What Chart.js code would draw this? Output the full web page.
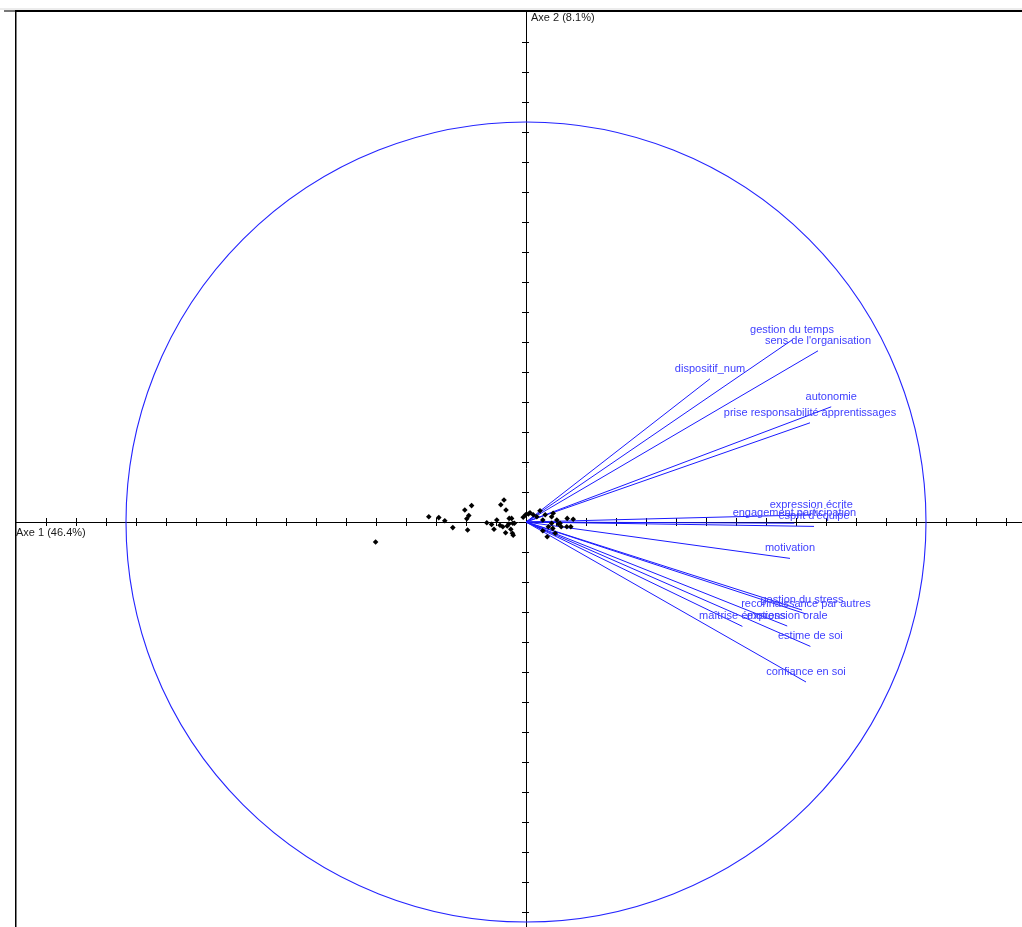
<!DOCTYPE html>
<html>
<head>
<meta charset="utf-8">
<script src="https://cdn.jsdelivr.net/npm/chart.js@4/dist/chart.umd.min.js"></script>
<style>
html,body{margin:0;padding:0;background:#fff;overflow:hidden;}
canvas{display:block;}
</style>
</head>
<body>
<canvas id="c" width="1022" height="927"></canvas>
<script>
// Axis titles
const axisXTitle = "Axe 1 (46.4%)";
const axisYTitle = "Axe 2 (8.1%)";

// Variables (correlation circle)
const varNames = [
  "dispositif_num", "gestion du temps", "sens de l'organisation", "autonomie",
  "prise responsabilité apprentissages", "expression écrite", "engagement participation",
  "esprit d'équipe", "motivation", "gestion du stress", "reconnaissance par autres",
  "expression orale", "maîtrise émotions", "estime de soi", "confiance en soi"
];
const varX = [0.460, 0.665, 0.730, 0.763, 0.710, 0.713, 0.671, 0.720, 0.660, 0.690, 0.700, 0.653, 0.541, 0.711, 0.700];
const varY = [0.358, 0.455, 0.428, 0.288, 0.248, 0.018, -0.003, -0.011, -0.091, -0.220, -0.230, -0.260, -0.261, -0.311, -0.400];

// Individuals
const indX = [-0.376,-0.243,-0.218,-0.203,-0.183,-0.153,-0.136,-0.143,-0.148,-0.146,-0.098,-0.086,-0.080,-0.073,-0.063,-0.055,-0.050,-0.065,-0.058,-0.051,-0.047,-0.042,-0.036,-0.033,-0.038,-0.034,-0.032,-0.043,-0.029,-0.007,-0.001,0.006,0.010,0.018,0.035,0.027,0.042,0.048,0.064,0.068,0.064,0.077,0.081,0.088,0.103,0.118,0.102,0.112,0.056,0.053,0.073,0.042,0.067,0.085];
const indY = [-0.050,0.013,0.011,0.003,-0.014,0.030,0.041,0.016,0.008,-0.020,-0.002,-0.006,-0.018,0.005,0.043,0.055,0.030,-0.008,-0.012,-0.027,-0.010,0.009,0.009,-0.003,-0.018,-0.028,-0.033,-0.005,-0.003,0.012,0.018,0.020,0.023,0.018,0.028,0.013,0.005,0.018,0.013,0.022,-0.003,0.005,-0.005,-0.012,0.009,0.007,-0.012,-0.012,-0.012,-0.037,-0.028,-0.022,-0.016,-0.003];

const tickStep = 0.075;
const circleRadius = 1;

const datasets = [];
datasets.push({
  label: 'individus',
  data: indX.map((x, i) => ({x: x, y: indY[i]})),
  backgroundColor: '#000',
  borderColor: '#000',
  pointStyle: 'rectRot',
  pointRadius: 2.8,
  borderWidth: 0,
  showLine: false
});
varNames.forEach((n, i) => {
  datasets.push({
    label: n,
    data: [{x: 0, y: 0}, {x: varX[i], y: varY[i]}],
    showLine: true,
    borderColor: '#1a1aff',
    borderWidth: 1,
    pointRadius: 0,
    fill: false
  });
});

const W = 1022, H = 927;
const frameLeft = 15, frameTop = 10;

const decor = {
  id: 'decor',
  beforeDatasetsDraw(chart) {
    const ctx = chart.ctx;
    const xs = chart.scales.x, ys = chart.scales.y;
    const cx = xs.getPixelForValue(0), cy = ys.getPixelForValue(0);
    ctx.save();
    // frame
    ctx.fillStyle = '#ececec';
    ctx.fillRect(0, 8, W, 2);
    ctx.fillStyle = '#777';
    ctx.fillRect(4, 10, frameLeft - 4, 2);
    ctx.fillStyle = '#000';
    ctx.fillRect(frameLeft, 10, W - frameLeft, 2);
    ctx.fillRect(frameLeft, 10, 1.5, H - 10);
    // axes
    ctx.strokeStyle = '#000';
    ctx.lineWidth = 1;
    ctx.beginPath();
    ctx.moveTo(frameLeft, Math.round(cy) + 0.5);
    ctx.lineTo(W, Math.round(cy) + 0.5);
    ctx.moveTo(Math.round(cx) + 0.5, frameTop);
    ctx.lineTo(Math.round(cx) + 0.5, H);
    ctx.stroke();
    // ticks
    ctx.beginPath();
    for (let k = -20; k <= 20; k++) {
      if (k === 0) continue;
      const v = k * tickStep;
      const px = xs.getPixelForValue(v);
      if (px > frameLeft + 2 && px < W) {
        ctx.moveTo(Math.round(px) + 0.5, cy - 4);
        ctx.lineTo(Math.round(px) + 0.5, cy + 4);
      }
      const py = ys.getPixelForValue(v);
      if (py > frameTop + 4 && py < H) {
        ctx.moveTo(cx - 4, Math.round(py) + 0.5);
        ctx.lineTo(cx + 3, Math.round(py) + 0.5);
      }
    }
    ctx.stroke();
    // circle
    const r = xs.getPixelForValue(circleRadius) - cx;
    ctx.strokeStyle = '#2424ff';
    ctx.lineWidth = 1.1;
    ctx.beginPath();
    ctx.arc(cx, cy, r, 0, Math.PI * 2);
    ctx.stroke();
    // axis titles
    ctx.fillStyle = '#1a1a1a';
    ctx.font = '11px "Liberation Sans", Arial, sans-serif';
    ctx.textBaseline = 'middle';
    ctx.textAlign = 'left';
    ctx.fillText(axisYTitle, cx + 5, 18);
    ctx.fillText(axisXTitle, frameLeft + 1, cy + 11);
    ctx.restore();
  },
  afterDatasetsDraw(chart) {
    const ctx = chart.ctx;
    const xs = chart.scales.x, ys = chart.scales.y;
    ctx.save();
    ctx.fillStyle = '#4040ff';
    ctx.font = '11px "Liberation Sans", Arial, sans-serif';
    ctx.textAlign = 'center';
    ctx.textBaseline = 'middle';
    varNames.forEach((n, i) => {
      const px = xs.getPixelForValue(varX[i]);
      const py = ys.getPixelForValue(varY[i]);
      ctx.fillText(n, px, py - 10);
    });
    ctx.restore();
  }
};

new Chart(document.getElementById('c'), {
  type: 'scatter',
  data: {datasets},
  options: {
    responsive: false,
    animation: false,
    devicePixelRatio: 1,
    layout: {padding: 0, autoPadding: false},
    plugins: {legend: {display: false}, tooltip: {enabled: false}},
    scales: {
      x: {type: 'linear', display: false, min: -1.315, max: 1.24},
      y: {type: 'linear', display: false, min: -1.0125, max: 1.305}
    },
    elements: {line: {tension: 0}}
  },
  plugins: [decor]
});
</script>
</body>
</html>
